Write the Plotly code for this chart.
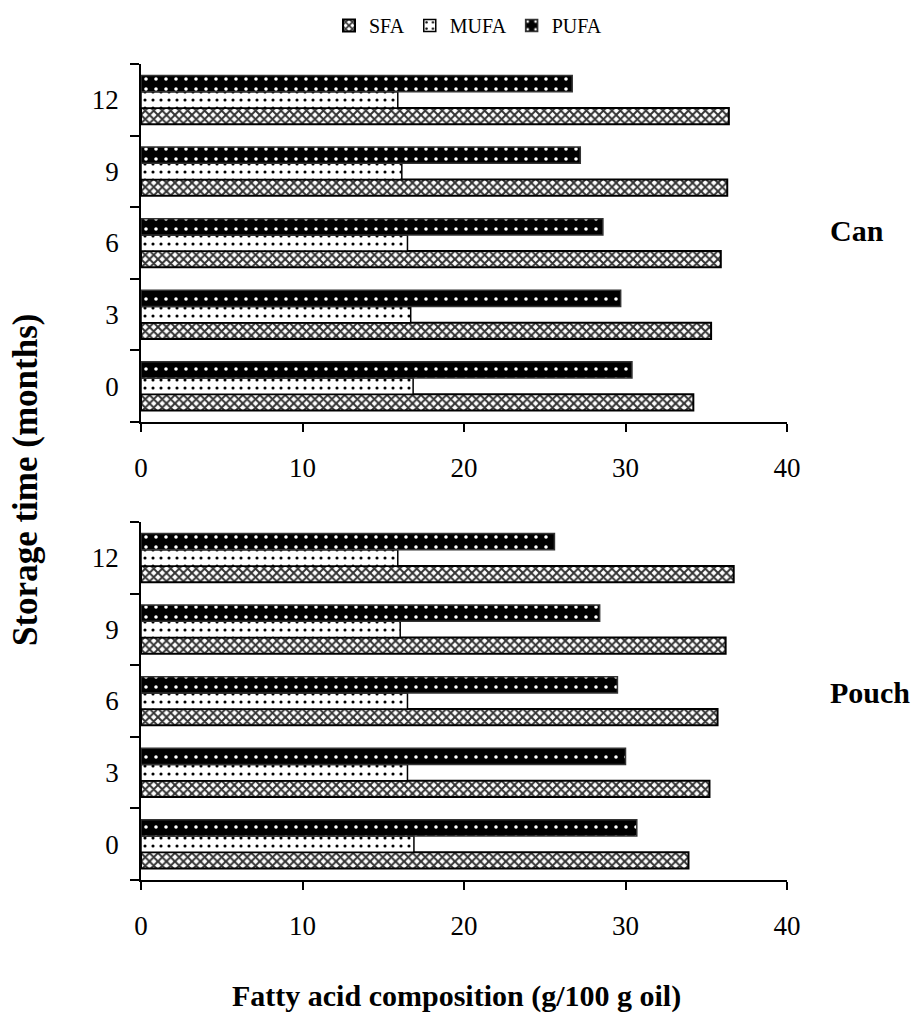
import plotly.graph_objects as go

categories = ["0", "3", "6", "9", "12"]
series_names = ["SFA", "MUFA", "PUFA"]

can_sfa = [34.2, 35.3, 35.9, 36.3, 36.4]
can_mufa = [16.85, 16.7, 16.5, 16.15, 15.9]
can_pufa = [30.4, 29.7, 28.6, 27.2, 26.7]

pouch_sfa = [33.9, 35.2, 35.7, 36.2, 36.7]
pouch_mufa = [16.9, 16.5, 16.5, 16.05, 15.9]
pouch_pufa = [30.7, 30.0, 29.5, 28.4, 25.6]

x_ticks = [0, 10, 20, 30, 40]

FONT = "Liberation Serif"

W, H = 915, 1019


def px(x):
    return x / W


def py(y):
    return 1 - y / H


styles = {
    "SFA": dict(color="white", pattern=dict(shape="x", fgcolor="#333333", bgcolor="white",
                                              size=6, solidity=0.55, fillmode="replace"),
                line=dict(color="black", width=2)),
    "MUFA": dict(color="white", pattern=dict(shape=".", fgcolor="black", bgcolor="white",
                                               size=8, solidity=0.12, fillmode="replace"),
                 line=dict(color="black", width=1.5)),
    "PUFA": dict(color="black", pattern=dict(shape=".", fgcolor="white", bgcolor="black",
                                               size=10, solidity=0.1, fillmode="replace"),
                 line=dict(color="#333333", width=1.5)),
}

fig = go.Figure()
panels = [
    ("x", "y", [can_sfa, can_mufa, can_pufa], True),
    ("x2", "y2", [pouch_sfa, pouch_mufa, pouch_pufa], False),
]
for xa, ya, data, show in panels:
    for name, vals in zip(series_names, data):
        st = styles[name]
        fig.add_trace(go.Bar(
            y=categories, x=vals, orientation="h", name=name,
            xaxis=xa, yaxis=ya, showlegend=show, legendgroup=name,
            marker=dict(color=st["color"], pattern=st["pattern"], line=st["line"]),
            hoverinfo="skip",
        ))

xdom = [px(141), px(787)]


def xaxis_cfg(anchor):
    return dict(domain=xdom, range=[0, 40], tickvals=x_ticks, ticks="outside", ticklen=8,
                tickwidth=1.5, tickcolor="black", showline=True, linecolor="black", linewidth=1.5,
                showgrid=False, zeroline=False, anchor=anchor, ticklabelstandoff=13,
                automargin=False,
                tickfont=dict(family=FONT, size=27, color="black"), fixedrange=True)


def yaxis_cfg(dom, anchor):
    return dict(domain=dom, type="category", categoryorder="array", categoryarray=categories,
                range=[-0.5, 4.5], tickson="boundaries", ticks="outside", ticklen=9,
                tickwidth=1.5, tickcolor="black", showline=True, linecolor="black", linewidth=1.5,
                showgrid=False, zeroline=False, anchor=anchor, ticklabelstandoff=15,
                automargin=False,
                tickfont=dict(family=FONT, size=27, color="black"), fixedrange=True)


fig.update_layout(
    width=W, height=H,
    margin=dict(l=0, r=0, t=0, b=0, pad=0, autoexpand=False),
    paper_bgcolor="white", plot_bgcolor="white",
    barmode="group", bargap=0.32, bargroupgap=0,
    font=dict(family=FONT, color="black"),
    xaxis=xaxis_cfg("y"),
    yaxis=yaxis_cfg([py(422), py(64)], "x"),
    xaxis2=xaxis_cfg("y2"),
    yaxis2=yaxis_cfg([py(880), py(522)], "x2"),
    legend=dict(orientation="h", x=px(468), xanchor="center", y=py(6), yanchor="top",
                font=dict(family=FONT, size=20, color="black"), traceorder="normal",
                itemwidth=30, bgcolor="rgba(0,0,0,0)"),
    annotations=[
        dict(text="<b>Storage time (months)</b>", x=px(25), y=py(480), xref="paper", yref="paper",
             showarrow=False, textangle=-90, font=dict(family=FONT, size=35, color="black"),
             xanchor="center", yanchor="middle"),
        dict(text="<b>Fatty acid composition (g/100 g oil)</b>", x=px(456), y=py(996),
             xref="paper", yref="paper", showarrow=False,
             font=dict(family=FONT, size=30, color="black"), xanchor="center", yanchor="middle"),
        dict(text="<b>Can</b>", x=px(828), y=py(230), xref="paper", yref="paper",
             showarrow=False, font=dict(family=FONT, size=30, color="black"),
             xanchor="left", yanchor="middle"),
        dict(text="<b>Pouch</b>", x=px(828), y=py(692), xref="paper", yref="paper",
             showarrow=False, font=dict(family=FONT, size=30, color="black"),
             xanchor="left", yanchor="middle"),
    ],
)

fig.write_html("out.html")
